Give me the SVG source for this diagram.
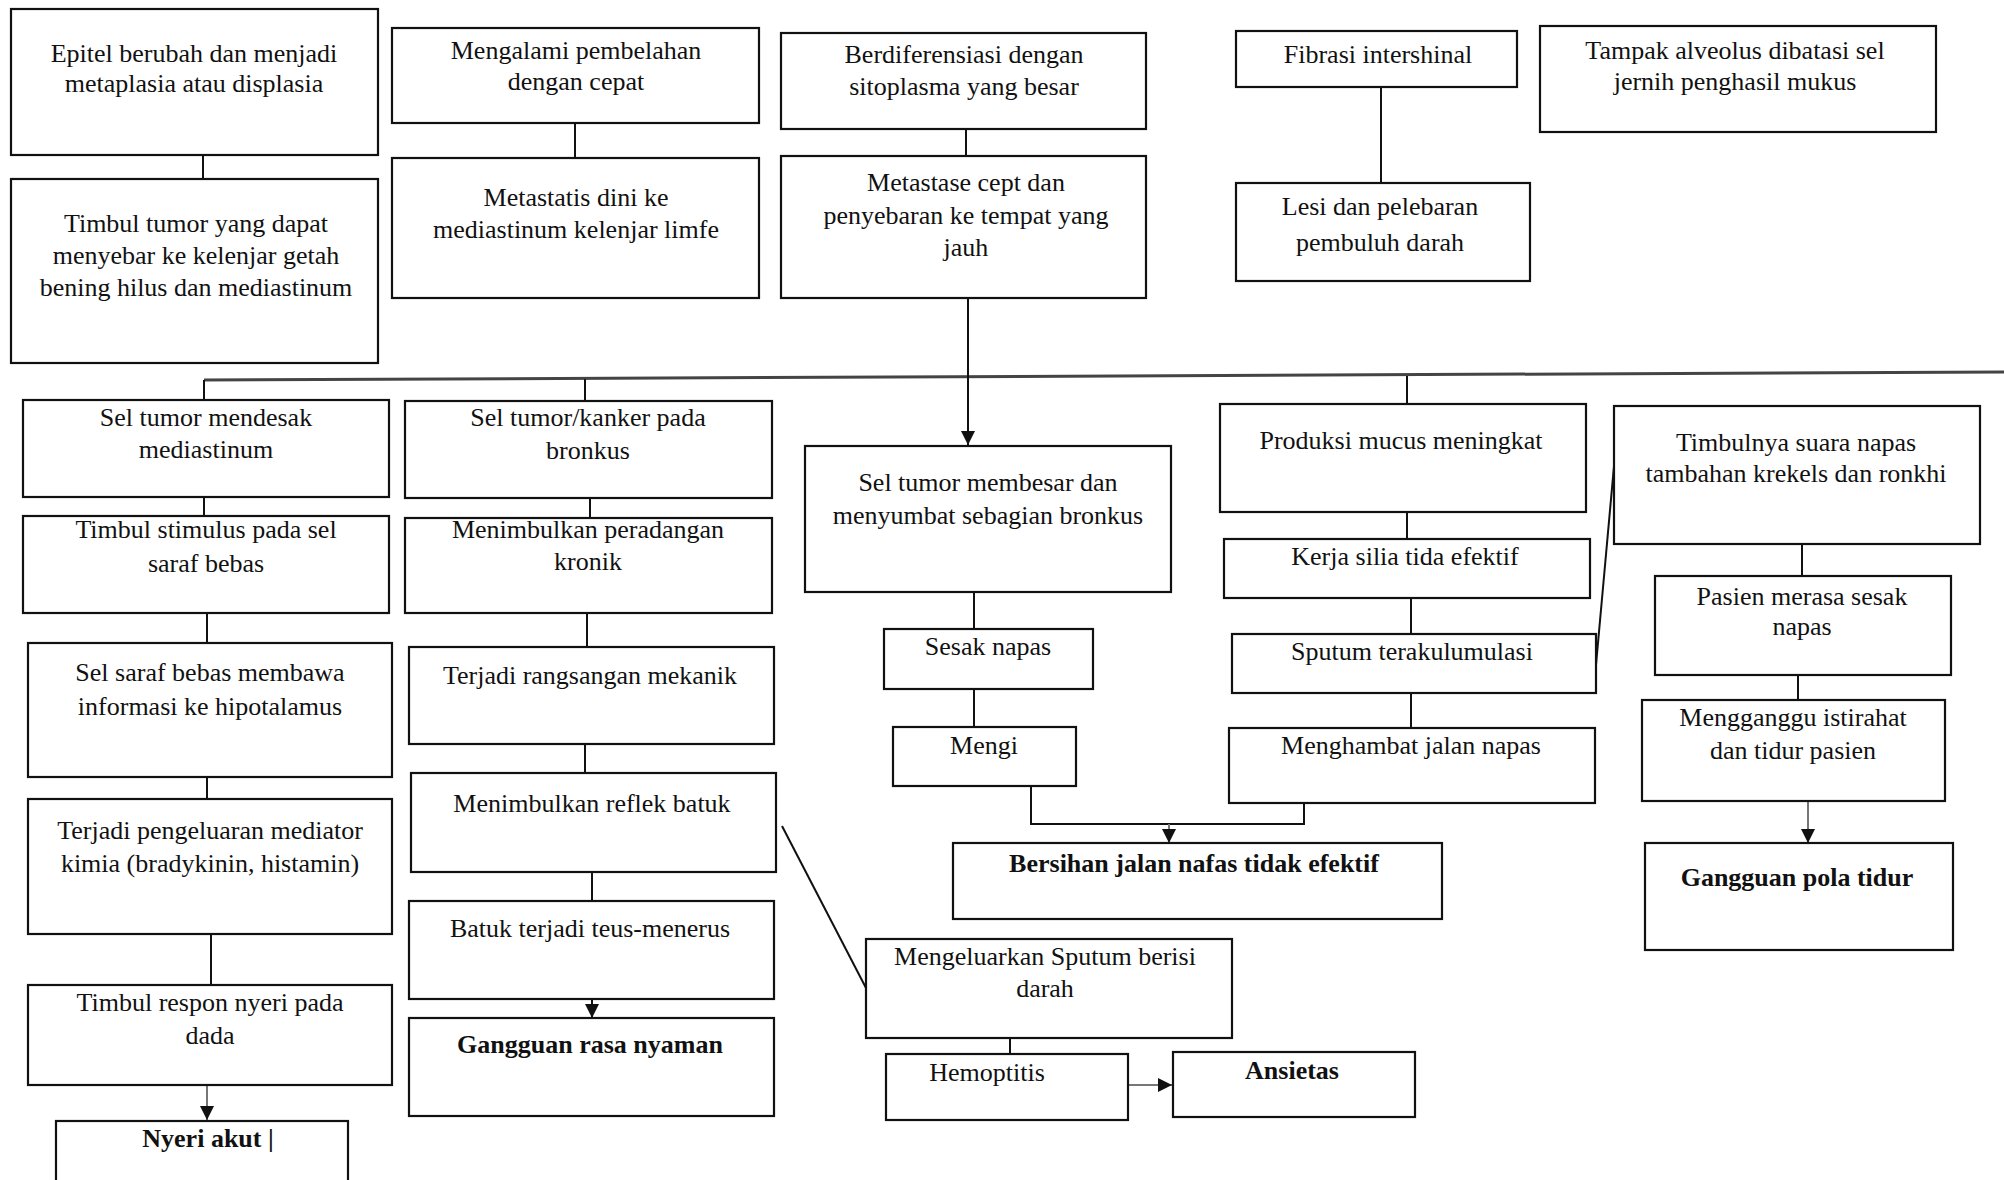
<svg xmlns="http://www.w3.org/2000/svg" width="2004" height="1180" viewBox="0 0 2004 1180">
<style>
.bx{fill:#fff;stroke:#111;stroke-width:2.2}
.t{font-family:"Liberation Serif","Times New Roman",serif;font-size:26px;text-anchor:middle;fill:#111}
.b{font-weight:bold}
.ln{fill:none;stroke:#111;stroke-width:2}
.gl{fill:none;stroke:#777;stroke-width:2}
.hl{fill:none;stroke:#444;stroke-width:3}
</style>
<defs>
<marker id="ah" markerUnits="userSpaceOnUse" markerWidth="16" markerHeight="16" refX="14" refY="7" orient="auto">
<path d="M0,0 L14,7 L0,14 z" fill="#111"/>
</marker>
</defs>
<rect width="2004" height="1180" fill="#fff"/>

<g id="connectors">
<line class="ln" x1="203" y1="155" x2="203" y2="179"/>
<line class="ln" x1="575" y1="123" x2="575" y2="158"/>
<line class="ln" x1="966" y1="129" x2="966" y2="156"/>
<line class="ln" x1="1381" y1="87" x2="1381" y2="183"/>
<line class="hl" x1="204" y1="380" x2="2004" y2="372"/>
<line class="ln" x1="968" y1="298" x2="968" y2="445" marker-end="url(#ah)"/>
<line class="ln" x1="204" y1="380" x2="204" y2="400"/>
<line class="ln" x1="585" y1="379" x2="585" y2="401"/>
<line class="ln" x1="1407" y1="376" x2="1407" y2="404"/>
<line class="ln" x1="204" y1="497" x2="204" y2="516"/>
<line class="ln" x1="207" y1="613" x2="207" y2="643"/>
<line class="ln" x1="207" y1="777" x2="207" y2="799"/>
<line class="ln" x1="211" y1="934" x2="211" y2="985"/>
<line class="gl" x1="207" y1="1085" x2="207" y2="1120" marker-end="url(#ah)"/>
<line class="ln" x1="590" y1="498" x2="590" y2="518"/>
<line class="ln" x1="587" y1="613" x2="587" y2="647"/>
<line class="ln" x1="585" y1="744" x2="585" y2="773"/>
<line class="ln" x1="592" y1="872" x2="592" y2="901"/>
<line class="ln" x1="592" y1="999" x2="592" y2="1018" marker-end="url(#ah)"/>
<line class="ln" x1="782" y1="826" x2="866" y2="988"/>
<line class="ln" x1="974" y1="592" x2="974" y2="629"/>
<line class="ln" x1="974" y1="689" x2="974" y2="727"/>
<polyline class="ln" points="1031,786 1031,824 1304,824 1304,803"/>
<line class="gl" x1="1169" y1="824" x2="1169" y2="843" marker-end="url(#ah)"/>
<line class="ln" x1="1010" y1="1038" x2="1010" y2="1054"/>
<line class="gl" x1="1128" y1="1085" x2="1172" y2="1085" marker-end="url(#ah)"/>
<line class="ln" x1="1407" y1="512" x2="1407" y2="539"/>
<line class="ln" x1="1411" y1="598" x2="1411" y2="634"/>
<line class="ln" x1="1411" y1="693" x2="1411" y2="728"/>
<line class="ln" x1="1596" y1="665" x2="1614" y2="466"/>
<line class="ln" x1="1802" y1="544" x2="1802" y2="576"/>
<line class="ln" x1="1798" y1="675" x2="1798" y2="700"/>
<line class="gl" x1="1808" y1="801" x2="1808" y2="843" marker-end="url(#ah)"/>
</g>

<g id="n-a1"><rect class="bx" x="11" y="9" width="367" height="146"/>
<text class="t" x="194" y="62">Epitel berubah dan menjadi</text><text class="t" x="194" y="92">metaplasia atau displasia</text></g>
<g id="n-a2"><rect class="bx" x="11" y="179" width="367" height="184"/>
<text class="t" x="196" y="232">Timbul tumor yang dapat</text><text class="t" x="196" y="264">menyebar ke kelenjar getah</text><text class="t" x="196" y="296">bening hilus dan mediastinum</text></g>
<g id="n-b1"><rect class="bx" x="392" y="28" width="367" height="95"/>
<text class="t" x="576" y="59">Mengalami pembelahan</text><text class="t" x="576" y="90">dengan cepat</text></g>
<g id="n-b2"><rect class="bx" x="392" y="158" width="367" height="140"/>
<text class="t" x="576" y="206">Metastatis dini ke</text><text class="t" x="576" y="238">mediastinum kelenjar limfe</text></g>
<g id="n-c1"><rect class="bx" x="781" y="33" width="365" height="96"/>
<text class="t" x="964" y="63">Berdiferensiasi dengan</text><text class="t" x="964" y="95">sitoplasma yang besar</text></g>
<g id="n-c2"><rect class="bx" x="781" y="156" width="365" height="142"/>
<text class="t" x="966" y="191">Metastase cept dan</text><text class="t" x="966" y="224">penyebaran ke tempat yang</text><text class="t" x="966" y="256">jauh</text></g>
<g id="n-d1"><rect class="bx" x="1236" y="31" width="281" height="56"/>
<text class="t" x="1378" y="63">Fibrasi intershinal</text></g>
<g id="n-d2"><rect class="bx" x="1236" y="183" width="294" height="98"/>
<text class="t" x="1380" y="215">Lesi dan pelebaran</text><text class="t" x="1380" y="251">pembuluh  darah</text></g>
<g id="n-e"><rect class="bx" x="1540" y="26" width="396" height="106"/>
<text class="t" x="1735" y="59">Tampak alveolus dibatasi sel</text><text class="t" x="1735" y="90">jernih penghasil mukus</text></g>

<g id="n-l1"><rect class="bx" x="23" y="400" width="366" height="97"/>
<text class="t" x="206" y="426">Sel tumor mendesak</text><text class="t" x="206" y="458">mediastinum</text></g>
<g id="n-l2"><rect class="bx" x="23" y="516" width="366" height="97"/>
<text class="t" x="206" y="538">Timbul stimulus pada sel</text><text class="t" x="206" y="572">saraf bebas</text></g>
<g id="n-l3"><rect class="bx" x="28" y="643" width="364" height="134"/>
<text class="t" x="210" y="681">Sel saraf bebas membawa</text><text class="t" x="210" y="715">informasi ke hipotalamus</text></g>
<g id="n-l4"><rect class="bx" x="28" y="799" width="364" height="135"/>
<text class="t" x="210" y="839">Terjadi pengeluaran mediator</text><text class="t" x="210" y="872">kimia (bradykinin, histamin)</text></g>
<g id="n-l5"><rect class="bx" x="28" y="985" width="364" height="100"/>
<text class="t" x="210" y="1011">Timbul respon nyeri pada</text><text class="t" x="210" y="1044">dada</text></g>
<g id="n-l6"><rect class="bx" x="56" y="1121" width="292" height="70"/>
<text class="t b" x="208" y="1147">Nyeri akut |</text></g>

<g id="n-m1"><rect class="bx" x="405" y="401" width="367" height="97"/>
<text class="t" x="588" y="426">Sel tumor/kanker pada</text><text class="t" x="588" y="459">bronkus</text></g>
<g id="n-m2"><rect class="bx" x="405" y="518" width="367" height="95"/>
<text class="t" x="588" y="538">Menimbulkan peradangan</text><text class="t" x="588" y="570">kronik</text></g>
<g id="n-m3"><rect class="bx" x="409" y="647" width="365" height="97"/>
<text class="t" x="590" y="684">Terjadi rangsangan mekanik</text></g>
<g id="n-m4"><rect class="bx" x="411" y="773" width="365" height="99"/>
<text class="t" x="592" y="812">Menimbulkan reflek batuk</text></g>
<g id="n-m5"><rect class="bx" x="409" y="901" width="365" height="98"/>
<text class="t" x="590" y="937">Batuk terjadi teus-menerus</text></g>
<g id="n-m6"><rect class="bx" x="409" y="1018" width="365" height="98"/>
<text class="t b" x="590" y="1053">Gangguan rasa nyaman</text></g>

<g id="n-c3"><rect class="bx" x="805" y="446" width="366" height="146"/>
<text class="t" x="988" y="491">Sel tumor membesar dan</text><text class="t" x="988" y="524">menyumbat sebagian bronkus</text></g>
<g id="n-c4"><rect class="bx" x="884" y="629" width="209" height="60"/>
<text class="t" x="988" y="655">Sesak napas</text></g>
<g id="n-c5"><rect class="bx" x="893" y="727" width="183" height="59"/>
<text class="t" x="984" y="754">Mengi</text></g>
<g id="n-c6"><rect class="bx" x="953" y="843" width="489" height="76"/>
<text class="t b" x="1194" y="872">Bersihan jalan nafas tidak efektif</text></g>
<g id="n-c7"><rect class="bx" x="866" y="939" width="366" height="99"/>
<text class="t" x="1045" y="965" fill="#333">Mengeluarkan Sputum berisi</text><text class="t" x="1045" y="997">darah</text></g>
<g id="n-c8"><rect class="bx" x="886" y="1054" width="242" height="66"/>
<text class="t" x="987" y="1081">Hemoptitis</text></g>
<g id="n-c9"><rect class="bx" x="1173" y="1052" width="242" height="65"/>
<text class="t b" x="1292" y="1079">Ansietas</text></g>

<g id="n-r1"><rect class="bx" x="1220" y="404" width="366" height="108"/>
<text class="t" x="1401" y="449">Produksi mucus meningkat</text></g>
<g id="n-r2"><rect class="bx" x="1224" y="539" width="366" height="59"/>
<text class="t" x="1405" y="565">Kerja silia tida efektif</text></g>
<g id="n-r3"><rect class="bx" x="1232" y="634" width="364" height="59"/>
<text class="t" x="1412" y="660">Sputum terakulumulasi</text></g>
<g id="n-r4"><rect class="bx" x="1229" y="728" width="366" height="75"/>
<text class="t" x="1411" y="754">Menghambat jalan napas</text></g>

<g id="n-s1"><rect class="bx" x="1614" y="406" width="366" height="138"/>
<text class="t" x="1796" y="451">Timbulnya suara napas</text><text class="t" x="1796" y="482">tambahan krekels dan ronkhi</text></g>
<g id="n-s2"><rect class="bx" x="1655" y="576" width="296" height="99"/>
<text class="t" x="1802" y="605">Pasien merasa sesak</text><text class="t" x="1802" y="635">napas</text></g>
<g id="n-s3"><rect class="bx" x="1642" y="700" width="303" height="101"/>
<text class="t" x="1793" y="726">Mengganggu istirahat</text><text class="t" x="1793" y="759">dan tidur pasien</text></g>
<g id="n-s4"><rect class="bx" x="1645" y="843" width="308" height="107"/>
<text class="t b" x="1797" y="886">Gangguan pola tidur</text></g>
</svg>
